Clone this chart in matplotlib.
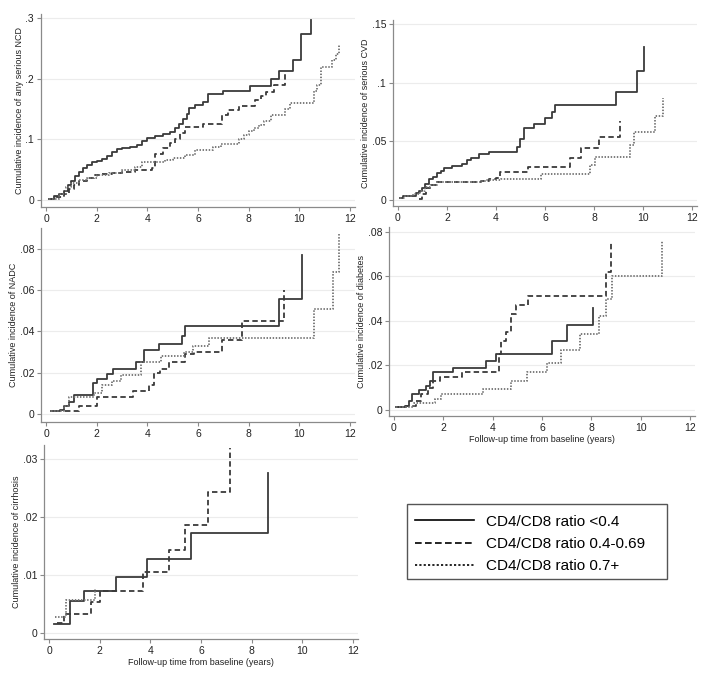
import numpy as np
import matplotlib
matplotlib.use("Agg")
import matplotlib.pyplot as plt
from matplotlib.lines import Line2D
from matplotlib.patches import Rectangle

plt.rcParams['font.family'] = ['Liberation Sans', 'DejaVu Sans']

# ---- data (years, cumulative incidence) ----
# any serious NCD
ncd_t_lo = [0.1, 0.3, 0.5, 0.7, 0.85, 1.0, 1.15, 1.3, 1.45, 1.6, 1.8, 2.0, 2.2, 2.4, 2.6, 2.8, 3.0, 3.3, 3.6, 3.8,
            4.0, 4.3, 4.6, 4.9, 5.1, 5.25, 5.4, 5.55, 5.65, 5.9, 6.2, 6.4, 7.0, 8.05, 8.9, 9.2, 9.75, 10.05, 10.45]
ncd_y_lo = [0.002, 0.006, 0.01, 0.015, 0.025, 0.032, 0.04, 0.046, 0.052, 0.057, 0.062, 0.065, 0.068, 0.073, 0.079,
            0.084, 0.086, 0.088, 0.091, 0.097, 0.103, 0.106, 0.108, 0.112, 0.118, 0.126, 0.133, 0.142, 0.151, 0.156,
            0.162, 0.174, 0.18, 0.188, 0.2, 0.213, 0.23, 0.273, 0.296]
ncd_t_mid = [0.1, 0.4, 0.7, 0.9, 1.1, 1.3, 1.6, 1.9, 2.2, 2.6, 3.0, 3.5, 4.2, 4.3, 4.6, 4.9, 5.1, 5.3, 5.5, 6.2,
             6.95, 7.2, 7.6, 8.25, 8.5, 8.7, 9.0, 9.45]
ncd_y_mid = [0.001, 0.005, 0.01, 0.018, 0.025, 0.031, 0.036, 0.041, 0.043, 0.045, 0.047, 0.05, 0.052, 0.076, 0.085,
             0.094, 0.1, 0.11, 0.12, 0.125, 0.14, 0.148, 0.155, 0.165, 0.172, 0.178, 0.19, 0.208]
ncd_t_hi = [0.1, 0.5, 0.8, 1.0, 1.3, 1.6, 2.0, 2.5, 3.0, 3.5, 3.8, 4.7, 5.0, 5.5, 5.9, 6.6, 6.9, 7.6, 7.8, 8.0,
            8.2, 8.4, 8.6, 8.9, 9.45, 9.65, 10.6, 10.7, 10.85, 11.3, 11.45, 11.55]
ncd_y_hi = [0.001, 0.01, 0.022, 0.028, 0.033, 0.037, 0.041, 0.045, 0.049, 0.055, 0.063, 0.066, 0.07, 0.075, 0.082,
            0.087, 0.093, 0.1, 0.107, 0.113, 0.118, 0.124, 0.13, 0.14, 0.15, 0.16, 0.18, 0.19, 0.22, 0.23, 0.24, 0.255]

# serious CVD
cvd_t_lo = [0.1, 0.2, 0.75, 0.85, 1.0, 1.1, 1.25, 1.45, 1.6, 1.75, 1.9, 2.2, 2.6, 2.8, 3.0, 3.3, 3.7, 4.85, 5.0,
            5.15, 5.55, 6.0, 6.3, 6.4, 8.9, 9.75, 10.05]
cvd_y_lo = [0.002, 0.003, 0.006, 0.008, 0.01, 0.014, 0.018, 0.02, 0.023, 0.025, 0.027, 0.029, 0.031, 0.034, 0.036,
            0.039, 0.041, 0.045, 0.052, 0.061, 0.065, 0.07, 0.075, 0.081, 0.092, 0.11, 0.13]
cvd_t_mid = [0.85, 1.0, 1.15, 1.35, 1.6, 3.4, 3.7, 4.0, 4.15, 5.3, 7.0, 7.45, 8.2, 9.05]
cvd_y_mid = [0.001, 0.005, 0.01, 0.013, 0.015, 0.016, 0.018, 0.019, 0.024, 0.028, 0.036, 0.044, 0.054, 0.067]
cvd_t_hi = [0.1, 0.3, 0.6, 0.9, 1.1, 1.3, 1.6, 3.4, 3.6, 4.2, 5.85, 7.85, 8.05, 9.45, 9.65, 10.5, 10.8]
cvd_y_hi = [0.002, 0.003, 0.005, 0.008, 0.011, 0.013, 0.015, 0.016, 0.017, 0.018, 0.022, 0.03, 0.037, 0.047,
            0.058, 0.072, 0.087]

# NADC
nadc_t_lo = [0.2, 0.55, 0.7, 0.9, 1.1, 1.85, 2.0, 2.4, 2.65, 3.55, 3.85, 4.45, 5.35, 5.5, 9.2, 10.1]
nadc_y_lo = [0.0015, 0.002, 0.004, 0.006, 0.009, 0.015, 0.017, 0.0195, 0.022, 0.025, 0.031, 0.034, 0.038, 0.0425,
             0.056, 0.077]
nadc_t_mid = [0.75, 1.3, 2.0, 3.45, 4.05, 4.25, 4.5, 4.85, 5.5, 5.85, 6.95, 7.75, 9.4]
nadc_y_mid = [0.0015, 0.0037, 0.008, 0.011, 0.014, 0.02, 0.022, 0.025, 0.029, 0.03, 0.036, 0.045, 0.06]
nadc_t_hi = [0.2, 0.7, 0.9, 1.9, 2.2, 2.6, 2.95, 3.75, 4.55, 5.45, 5.8, 6.45, 10.6, 11.35, 11.55]
nadc_y_hi = [0.0015, 0.004, 0.008, 0.01, 0.014, 0.016, 0.019, 0.025, 0.028, 0.03, 0.033, 0.037, 0.051, 0.069, 0.088]

# diabetes
dm_t_lo = [0.1, 0.45, 0.6, 0.75, 1.0, 1.3, 1.45, 1.6, 2.4, 3.75, 4.15, 6.4, 7.0, 8.05]
dm_y_lo = [0.0015, 0.002, 0.004, 0.007, 0.009, 0.011, 0.013, 0.017, 0.019, 0.022, 0.025, 0.031, 0.038, 0.046]
dm_t_mid = [0.1, 0.5, 0.9, 1.1, 1.4, 1.6, 1.85, 2.75, 4.25, 4.35, 4.55, 4.75, 4.95, 5.45, 8.6, 8.8]
dm_y_mid = [0.0015, 0.002, 0.004, 0.007, 0.01, 0.013, 0.015, 0.017, 0.025, 0.031, 0.035, 0.043, 0.047, 0.051,
            0.062, 0.075]
dm_t_hi = [0.1, 0.8, 1.65, 1.9, 3.6, 4.75, 5.4, 6.2, 6.75, 7.55, 8.3, 8.6, 8.85, 10.85]
dm_y_hi = [0.0015, 0.003, 0.005, 0.007, 0.0095, 0.013, 0.017, 0.021, 0.027, 0.034, 0.042, 0.05, 0.06, 0.076]

# cirrhosis
cir_t_lo = [0.2, 0.83, 1.36, 2.63, 3.87, 5.62, 8.65]
cir_y_lo = [0.0015, 0.0055, 0.0073, 0.0097, 0.0128, 0.0173, 0.0275]
cir_t_mid = [0.3, 0.6, 1.65, 2.0, 3.72, 4.72, 5.35, 6.27, 7.15]
cir_y_mid = [0.0018, 0.0032, 0.0053, 0.0073, 0.0105, 0.0143, 0.0187, 0.0243, 0.0318]
cir_t_hi = [0.25, 0.65, 1.8]
cir_y_hi = [0.0028, 0.0057, 0.0075]

labels = ["CD4/CD8 ratio <0.4", "CD4/CD8 ratio 0.4-0.69", "CD4/CD8 ratio 0.7+"]
xlabel = "Follow-up time from baseline (years)"

W, H = 711, 680
fig = plt.figure(figsize=(W / 100, H / 100), dpi=100)

styles = [dict(color="#3a3a3a", linestyle="-"),
          dict(color="#3a3a3a", linestyle=(0, (3, 1.8))),
          dict(color="#727272", linestyle=(0, (0.8, 0.9)))]


def panel(box, series, ylim, yticks, yticklabels, ylabel, show_xlabel=False):
    x0, x1, ytop, ybot = box
    ax = fig.add_axes([x0 / W, 1 - ybot / H, (x1 - x0) / W, (ybot - ytop) / H])
    for (t, y), st in zip(series, styles):
        ax.step(t, y, where="post", lw=1.3, **st)
    ax.set_xlim(-0.2, 12.2)
    ax.set_ylim(*ylim)
    ax.set_xticks(range(0, 13, 2))
    ax.set_yticks(yticks)
    ax.set_yticklabels(yticklabels)
    ax.yaxis.grid(True, color="#ececec", lw=0.8)
    ax.set_axisbelow(True)
    for s in ["top", "right"]:
        ax.spines[s].set_visible(False)
    for s in ["left", "bottom"]:
        ax.spines[s].set_color("#8a8a8a")
        ax.spines[s].set_linewidth(0.9)
    ax.tick_params(length=3, width=0.8, color="#8a8a8a", labelsize=7.5, labelcolor="#222222", pad=2)
    ax.set_ylabel(ylabel, fontsize=6.5, color="#222222", labelpad=1)
    if show_xlabel:
        ax.set_xlabel(xlabel, fontsize=6.5, color="#222222", labelpad=1.5)
    return ax


panel((41, 355, 14, 207),
      [(ncd_t_lo, ncd_y_lo), (ncd_t_mid, ncd_y_mid), (ncd_t_hi, ncd_y_hi)],
      (-0.0115, 0.3066), [0, 0.1, 0.2, 0.3], ["0", ".1", ".2", ".3"],
      "Cumulative incidence of any serious NCD")
panel((393, 697, 20, 206),
      [(cvd_t_lo, cvd_y_lo), (cvd_t_mid, cvd_y_mid), (cvd_t_hi, cvd_y_hi)],
      (-0.0051, 0.1534), [0, 0.05, 0.1, 0.15], ["0", ".05", ".1", ".15"],
      "Cumulative incidence of serious CVD")
panel((41, 355, 228, 422),
      [(nadc_t_lo, nadc_y_lo), (nadc_t_mid, nadc_y_mid), (nadc_t_hi, nadc_y_hi)],
      (-0.0039, 0.0902), [0, 0.02, 0.04, 0.06, 0.08], ["0", ".02", ".04", ".06", ".08"],
      "Cumulative incidence of NADC")
panel((389, 695, 227, 416),
      [(dm_t_lo, dm_y_lo), (dm_t_mid, dm_y_mid), (dm_t_hi, dm_y_hi)],
      (-0.0027, 0.0822), [0, 0.02, 0.04, 0.06, 0.08], ["0", ".02", ".04", ".06", ".08"],
      "Cumulative incidence of diabetes", show_xlabel=True)
panel((44, 358, 445, 639),
      [(cir_t_lo, cir_y_lo), (cir_t_mid, cir_y_mid), (cir_t_hi, cir_y_hi)],
      (-0.00103, 0.0324), [0, 0.01, 0.02, 0.03], ["0", ".01", ".02", ".03"],
      "Cumulative incidence of cirrhosis", show_xlabel=True)

# legend with a fixed-size box
fig.patches.append(Rectangle((407 / W, 1 - 579 / H), (667 - 407) / W, (579 - 504) / H,
                             transform=fig.transFigure, fill=False, edgecolor="#555555", lw=1.0))
handles = [Line2D([], [], color="black", lw=1.2, linestyle="-"),
           Line2D([], [], color="black", lw=1.2, linestyle=(0, (4, 2))),
           Line2D([], [], color="black", lw=1.2, linestyle=(0, (1.3, 1.3)))]
fig.legend(handles, labels, loc="upper left", bbox_to_anchor=(410 / W, 1 - 510 / H),
           frameon=False, fontsize=11, handlelength=3.9, handletextpad=0.75,
           labelspacing=0.55, borderaxespad=0, borderpad=0.3)

fig.savefig("out.png", dpi=100)
